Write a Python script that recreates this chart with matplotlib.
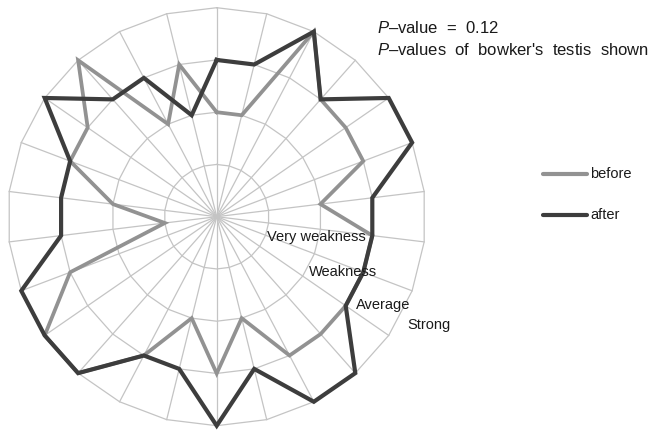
import numpy as np
import matplotlib
matplotlib.use("Agg")
import matplotlib.pyplot as plt

# 평가 항목 26개, 점수 1~4
levels = ["Very weakness", "Weakness", "Average", "Strong"]
before = [2, 2, 4, 3, 3, 3, 2, 3, 3, 3, 3, 3, 2, 3, 2, 3, 4, 4, 3, 1, 2, 3, 3, 4, 2, 3]
after = [3, 3, 4, 3, 4, 4, 3, 3, 3, 3, 4, 4, 3, 4, 3, 3, 4, 4, 4, 3, 3, 3, 4, 3, 3, 2]
p_value = 0.12

plt.rcParams["font.family"] = ["Liberation Sans", "DejaVu Sans"]
plt.rcParams["mathtext.fontset"] = "custom"
plt.rcParams["mathtext.it"] = "Liberation Sans:italic"

W, H = 656, 434
cx, cy, rad = 216.7, 216.7, 209  # 픽셀 기준 중심/반지름

n = len(before)
theta = np.linspace(0, 2 * np.pi, n, endpoint=False)
theta_c = np.append(theta, theta[0])

fig = plt.figure(figsize=(W / 100, H / 100), dpi=100)
ax = fig.add_axes([(cx - rad) / W, (H - cy - rad) / H, 2 * rad / W, 2 * rad / H], projection="polar")
ax.set_theta_zero_location("N")
ax.set_theta_direction(-1)
ax.set_ylim(0, len(levels))
ax.grid(False)
ax.spines["polar"].set_visible(False)
ax.set_xticks([])
ax.set_yticks([])
ax.patch.set_visible(False)

grid_c = "#c4c4c4"
c_before = "#929292"
c_after = "#3d3d3d"
for r in range(1, len(levels) + 1):
    ax.plot(theta_c, [r] * (n + 1), color=grid_c, lw=0.9, clip_on=False, zorder=1)
for t in theta:
    ax.plot([t, t], [0, len(levels)], color=grid_c, lw=0.9, clip_on=False, zorder=1)

ax.plot(theta_c, before + before[:1], color=c_before, lw=2.7, clip_on=False, zorder=3,
        solid_joinstyle="miter")
ax.plot(theta_c, after + after[:1], color=c_after, lw=3.0, clip_on=False, zorder=4,
        solid_joinstyle="miter")

# 척도 라벨
lab_pos = [(316, 237), (343, 272), (383, 305), (429, 325)]
for txt, (x, y) in zip(levels, lab_pos):
    fig.text(x / W, 1 - y / H, txt, fontsize=10.5, ha="center", va="center", color="#1a1a1a", zorder=5)

# p-value
fig.text(377 / W, 1 - 28 / H, "$P$–value  =  " + str(p_value), fontsize=12, va="center", color="#1a1a1a")
fig.text(377 / W, 1 - 50 / H, "$P$–values  of  bowker's  testis  shown", fontsize=12, va="center", color="#1a1a1a")

# 범례
for lab, col, y in [("before", c_before, 174), ("after", c_after, 215)]:
    fig.add_artist(plt.Line2D([543 / W, 587 / W], [1 - y / H, 1 - y / H], color=col, lw=3.0,
                              solid_capstyle="round"))
    fig.text(590 / W, 1 - y / H, lab, fontsize=10.5, va="center", color="#1a1a1a")

fig.savefig("out.png", dpi=100)
